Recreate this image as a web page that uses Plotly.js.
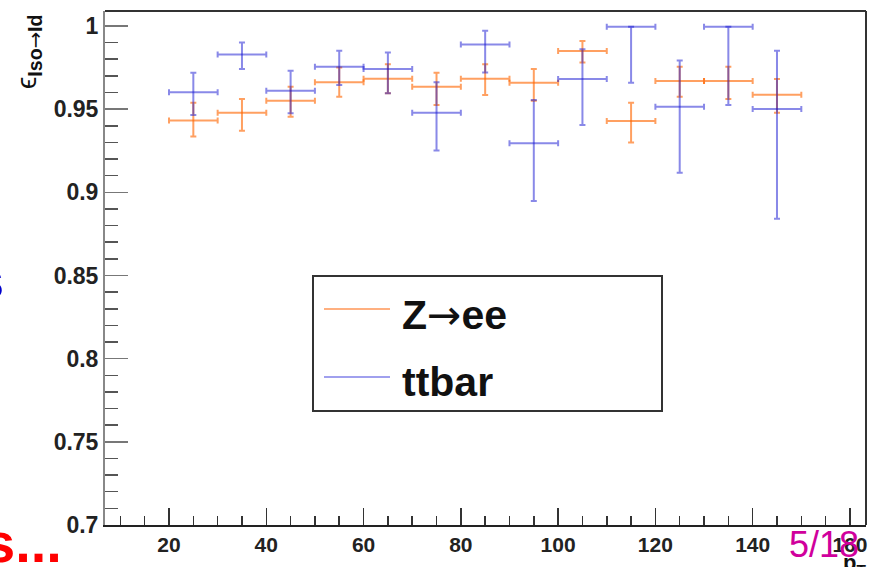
<!DOCTYPE html>
<html>
<head>
<meta charset="utf-8">
<script src="https://cdn.plot.ly/plotly-3.0.1.min.js"></script>
<style>html,body{margin:0;padding:0;background:#fff;}#chart{width:875px;height:567px;}</style>
</head>
<body>
<div id="chart"></div>
<script>
// Bin centres (pT) and half bin widths
const binCenters = [25, 35, 45, 55, 65, 75, 85, 95, 105, 115, 125, 135, 145];
const binHalfWidth = [5, 5, 5, 5, 5, 5, 5, 5, 5, 5, 5, 5, 5];

// Z->ee efficiency
const zeeEff     = [0.9431, 0.9479, 0.9551, 0.9662, 0.9683, 0.9635, 0.9683, 0.9659, 0.9850, 0.9429, 0.9669, 0.9669, 0.9587];
const zeeErrUp   = [0.0108, 0.0082, 0.0084, 0.0088, 0.0087, 0.0084, 0.0087, 0.0082, 0.0060, 0.0110, 0.0086, 0.0086, 0.0094];
const zeeErrDown = [0.0096, 0.0109, 0.0096, 0.0087, 0.0088, 0.0110, 0.0098, 0.0108, 0.0070, 0.0130, 0.0094, 0.0108, 0.0108];

// ttbar efficiency
const ttEff     = [0.9601, 0.9828, 0.9611, 0.9755, 0.9742, 0.9479, 0.9888, 0.9295, 0.9681, 0.9996, 0.9515, 0.9996, 0.9501];
const ttErrUp   = [0.0118, 0.0072, 0.0120, 0.0096, 0.0098, 0.0183, 0.0084, 0.0260, 0.0179, 0.0000, 0.0277, 0.0000, 0.0350];
const ttErrDown = [0.0136, 0.0086, 0.0136, 0.0110, 0.0146, 0.0228, 0.0168, 0.0347, 0.0277, 0.0337, 0.0397, 0.0471, 0.0660];

const seriesNames = ['Z<span style="font-family:DejaVu Sans;font-weight:normal">\u2192</span>ee', 'ttbar'];
const yTickVals = [0.7, 0.75, 0.8, 0.85, 0.9, 0.95, 1];
const yTickText = ['0.7', '0.75', '0.8', '0.85', '0.9', '0.95', '1'];
const xTickVals = [20, 40, 60, 80, 100, 120, 140, 160];

const orange = 'rgba(255,102,0,0.62)';
const blue = 'rgba(20,20,210,0.5)';

function errTrace(y, up, down, color) {
  return {
    type: 'scatter', mode: 'markers', x: binCenters, y: y,
    marker: {size: 2, color: color, opacity: 0},
    error_x: {type: 'data', array: binHalfWidth, symmetric: true, color: color, thickness: 2, width: 3},
    error_y: {type: 'data', array: up, arrayminus: down, symmetric: false, color: color, thickness: 2, width: 3},
    showlegend: false, hoverinfo: 'skip'
  };
}

const traces = [
  errTrace(zeeEff, zeeErrUp, zeeErrDown, orange),
  errTrace(ttEff, ttErrUp, ttErrDown, blue)
];

// pixel -> paper helpers (plot area 105..866 x 11..525)
const L = 105, R = 866, T = 11, B = 525;
const px = x => (x - L) / (R - L);
const py = y => (B - y) / (B - T);

const fontB = 'Liberation Sans, Arial, sans-serif';

const layout = {
  width: 875, height: 567,
  margin: {l: L, r: 875 - R, t: T, b: 567 - B},
  paper_bgcolor: '#ffffff', plot_bgcolor: '#ffffff',
  showlegend: false,
  xaxis: {
    range: [6.84, 163.3], showgrid: false, zeroline: false,
    showline: true, linecolor: '#222', linewidth: 2,
    tickvals: xTickVals, ticks: 'inside', ticklen: 17, tickcolor: '#333', tickwidth: 1.5,
    minor: {dtick: 5, tick0: 0, ticks: 'inside', ticklen: 9, tickcolor: '#333', tickwidth: 1.5, showgrid: false},
    tickfont: {family: fontB, size: 21, color: '#222', weight: 'bold'}
  },
  yaxis: {
    range: [0.7, 1.009], showgrid: false, zeroline: false,
    showline: true, linecolor: '#888', linewidth: 2,
    tickvals: yTickVals, ticktext: yTickText, ticks: 'inside', ticklen: 23, tickcolor: '#777', tickwidth: 1.5,
    minor: {dtick: 0.01, tick0: 0.7, ticks: 'inside', ticklen: 13, tickcolor: '#555', tickwidth: 1.5, showgrid: false},
    tickfont: {family: fontB, size: 23, color: '#222', weight: 'bold'}
  },
  shapes: [
    // top and right frame
    {type: 'line', xref: 'paper', yref: 'paper', x0: 0, x1: 1, y0: 1, y1: 1, line: {color: '#333', width: 2}},
    {type: 'line', xref: 'paper', yref: 'paper', x0: 1, x1: 1, y0: 0, y1: 1, line: {color: '#333', width: 2}},
    // legend box
    {type: 'rect', xref: 'paper', yref: 'paper', x0: px(313), x1: px(662), y0: py(411), y1: py(276),
     line: {color: '#333', width: 2}, fillcolor: '#ffffff'},
    {type: 'line', xref: 'paper', yref: 'paper', x0: px(324), x1: px(390), y0: py(309), y1: py(309), line: {color: '#ffb080', width: 2}},
    {type: 'line', xref: 'paper', yref: 'paper', x0: px(324), x1: px(390), y0: py(377), y1: py(377), line: {color: '#a0a0ee', width: 2}}
  ],
  annotations: [
    {xref: 'paper', yref: 'paper', x: px(400), y: py(315), xanchor: 'left', yanchor: 'middle', showarrow: false,
     text: '<b>' + seriesNames[0] + '</b>', font: {family: fontB, size: 41, color: '#111'}},
    {xref: 'paper', yref: 'paper', x: px(400), y: py(382), xanchor: 'left', yanchor: 'middle', showarrow: false,
     text: '<b>' + seriesNames[1] + '</b>', font: {family: fontB, size: 41, color: '#111'}},
    // y-axis title
    {xref: 'paper', yref: 'paper', x: px(29), y: py(52), xanchor: 'center', yanchor: 'middle', showarrow: false,
     textangle: -90, text: '\u03f5<sub><b>Iso<span style="font-family:DejaVu Sans;font-weight:normal">\u2192</span>Id</b></sub>',
     font: {family: fontB, size: 28, color: '#111'}},
    // x-axis title (partly cut)
    {xref: 'paper', yref: 'paper', x: px(854), y: py(564), xanchor: 'center', yanchor: 'middle', showarrow: false,
     text: '<b>p<sub>T</sub></b>', font: {family: fontB, size: 22, color: '#111'}},
    // page number
    {xref: 'paper', yref: 'paper', x: px(824), y: py(544), xanchor: 'center', yanchor: 'middle', showarrow: false,
     text: '5/18', font: {family: fontB, size: 36, color: '#d0009c'}},
    // slide text fragments
    {xref: 'paper', yref: 'paper', x: px(64), y: py(542), xanchor: 'right', yanchor: 'middle', showarrow: false,
     text: '<b>s...</b>', font: {family: fontB, size: 56, color: '#ff0000'}},
    {xref: 'paper', yref: 'paper', x: px(6), y: py(280), xanchor: 'right', yanchor: 'middle', showarrow: false,
     text: '<b>s</b>', font: {family: fontB, size: 52, color: '#0000cc'}}
  ]
};

Plotly.newPlot('chart', traces, layout, {displayModeBar: false, staticPlot: true});
</script>
</body>
</html>
